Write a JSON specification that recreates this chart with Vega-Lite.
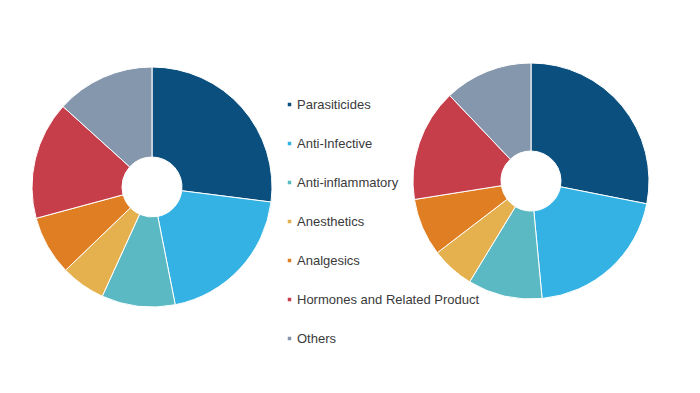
{
  "$schema": "https://vega.github.io/schema/vega-lite/v6.json",
  "padding": {"left": 30, "top": 61, "right": 0, "bottom": 0},
  "background": "white",
  "datasets": {
    "left": [
      {"segment": "Parasiticides", "share": 27.0},
      {"segment": "Anti-Infective", "share": 19.9},
      {"segment": "Anti-inflammatory", "share": 9.9},
      {"segment": "Anesthetics", "share": 6.0},
      {"segment": "Analgesics", "share": 8.0},
      {"segment": "Hormones and Related Product", "share": 15.9},
      {"segment": "Others", "share": 13.3}
    ],
    "right": [
      {"segment": "Parasiticides", "share": 28.1},
      {"segment": "Anti-Infective", "share": 20.4},
      {"segment": "Anti-inflammatory", "share": 10.2},
      {"segment": "Anesthetics", "share": 5.9},
      {"segment": "Analgesics", "share": 7.9},
      {"segment": "Hormones and Related Product", "share": 15.4},
      {"segment": "Others", "share": 12.1}
    ]
  },
  "spacing": 137,
  "hconcat": [
    {
      "width": 240,
      "height": 250,
      "data": {"name": "left"},
      "transform": [{"window": [{"op": "row_number", "as": "rank"}]}],
      "mark": {"type": "arc", "outerRadius": 120, "innerRadius": 30, "stroke": "white", "strokeWidth": 1},
      "encoding": {
        "theta": {"field": "share", "type": "quantitative", "stack": true},
        "order": {"field": "rank", "type": "quantitative"},
        "color": {
          "field": "segment",
          "type": "nominal",
          "scale": {
            "domain": ["Parasiticides", "Anti-Infective", "Anti-inflammatory", "Anesthetics", "Analgesics", "Hormones and Related Product", "Others"],
            "range": ["#0b4f7e", "#35b2e4", "#5bb9c3", "#e5b04e", "#e07e23", "#c73e4b", "#8597ad"]
          },
          "legend": {"orient": "none", "legendX": 251, "legendY": 36, "title": null, "symbolType": "square", "symbolSize": 25, "labelFontSize": 13, "labelFont": "Liberation Sans", "labelColor": "#3a3a3a", "labelLimit": 400, "rowPadding": 25, "padding": 0, "labelOffset": 1}
        }
      }
    },
    {
      "width": 236,
      "height": 238,
      "data": {"name": "right"},
      "transform": [{"window": [{"op": "row_number", "as": "rank"}]}],
      "mark": {"type": "arc", "outerRadius": 118, "innerRadius": 30, "stroke": "white", "strokeWidth": 1},
      "encoding": {
        "theta": {"field": "share", "type": "quantitative", "stack": true},
        "order": {"field": "rank", "type": "quantitative"},
        "color": {
          "field": "segment",
          "type": "nominal",
          "scale": {
            "domain": ["Parasiticides", "Anti-Infective", "Anti-inflammatory", "Anesthetics", "Analgesics", "Hormones and Related Product", "Others"],
            "range": ["#0b4f7e", "#35b2e4", "#5bb9c3", "#e5b04e", "#e07e23", "#c73e4b", "#8597ad"]
          },
          "legend": {"orient": "none", "legendX": 251, "legendY": 36, "title": null, "symbolType": "square", "symbolSize": 25, "labelFontSize": 13, "labelFont": "Liberation Sans", "labelColor": "#3a3a3a", "labelLimit": 400, "rowPadding": 25, "padding": 0, "labelOffset": 1}
        }
      }
    }
  ],
  "resolve": {"scale": {"theta": "independent"}},
  "config": {"view": {"stroke": null}}
}
